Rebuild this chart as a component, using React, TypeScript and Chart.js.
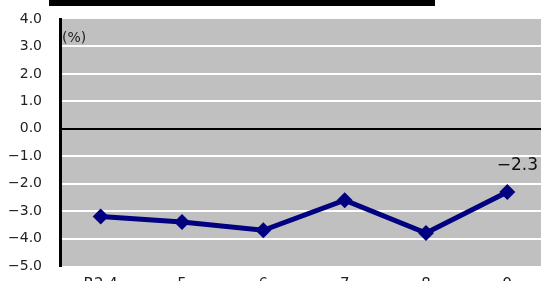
import React, { useEffect, useRef } from "react";
import { Chart, registerables } from "chart.js";

Chart.register(...registerables);

const categories = ["R2.4", "5", "6", "7", "8", "9"];
const values = [-3.2, -3.4, -3.7, -2.6, -3.8, -2.3];
const yMin = -5;
const yMax = 4;
const unitLabel = "(%)";
const lastLabel = "\u22122.3";

const fmt = (v: number) => {
  const s = Math.abs(v).toFixed(1);
  return v < 0 ? "\u2212" + s : s;
};

const FONT = "'DejaVu Sans', sans-serif";

export default function App() {
  const ref = useRef<HTMLCanvasElement | null>(null);
  useEffect(() => {
    if (!ref.current) return;
    const bgPlugin = {
      id: "bg",
      beforeDraw(chart: any) {
        const { ctx, chartArea } = chart;
        ctx.save();
        ctx.fillStyle = "#c0c0c0";
        ctx.fillRect(chartArea.left, chartArea.top, chartArea.right - chartArea.left, chartArea.bottom - chartArea.top);
        ctx.restore();
      },
      afterDatasetsDraw(chart: any) {
        const { ctx, chartArea } = chart;
        ctx.save();
        ctx.fillStyle = "#222";
        ctx.font = "14px " + FONT;
        ctx.textAlign = "left";
        ctx.textBaseline = "middle";
        ctx.fillText(unitLabel, chartArea.left + 2, chartArea.top + 19);
        const meta = chart.getDatasetMeta(0);
        const pt = meta.data[meta.data.length - 1];
        ctx.font = "17px " + FONT;
        ctx.textAlign = "center";
        ctx.fillStyle = "#111";
        ctx.fillText(lastLabel, pt.x + 10, pt.y - 26);
        ctx.restore();
      },
    };
    const chart = new Chart(ref.current, {
      type: "line",
      data: {
        labels: categories,
        datasets: [
          {
            data: values,
            borderColor: "#000080",
            backgroundColor: "#000080",
            borderWidth: 5,
            pointStyle: "rectRot",
            pointRadius: 8,
            pointBorderWidth: 0,
            pointBackgroundColor: "#000080",
            tension: 0,
          },
        ],
      },
      options: {
        responsive: false,
        animation: false,
        devicePixelRatio: 1,
        layout: { padding: { top: 19, right: 0, bottom: 0, left: 0 } },
        plugins: { legend: { display: false }, tooltip: { enabled: false } },
        scales: {
          x: {
            type: "category",
            offset: true,
            grid: { display: false },
            border: { display: false },
            ticks: { color: "#222", font: { family: FONT, size: 15 }, padding: 2, maxRotation: 0 },
            afterFit(scale: any) {
              scale.height = 24;
            },
          },
          y: {
            min: yMin,
            max: yMax,
            ticks: {
              stepSize: 1,
              color: "#222",
              font: { family: FONT, size: 14 },
              padding: 0,
              callback: (v: any) => fmt(Number(v)),
            },
            grid: {
              drawTicks: true,
              tickLength: 18,
              tickColor: "rgba(0,0,0,0)",
              lineWidth: 2,
              color: (c: any) => {
                const v = c.tick ? c.tick.value : 0;
                if (v === yMax || v === yMin) return "rgba(0,0,0,0)";
                if (v === 0) return "#000";
                return "#ffffff";
              },
            },
            border: { display: true, color: "#000", width: 3 },
            afterFit(scale: any) {
              scale.width = 60;
            },
          },
        },
      },
      plugins: [bgPlugin],
    } as any);
    return () => chart.destroy();
  }, []);
  return (
    <div style={{ position: "fixed", left: 0, top: 0, width: 541, height: 281, overflow: "hidden", background: "#fff" }}>
      <canvas ref={ref} width={556} height={290} style={{ display: "block", position: "absolute", left: 0, top: 0 }} />
      <div style={{ position: "absolute", left: 49, top: 0, width: 386, height: 6, background: "#000" }} />
    </div>
  );
}
